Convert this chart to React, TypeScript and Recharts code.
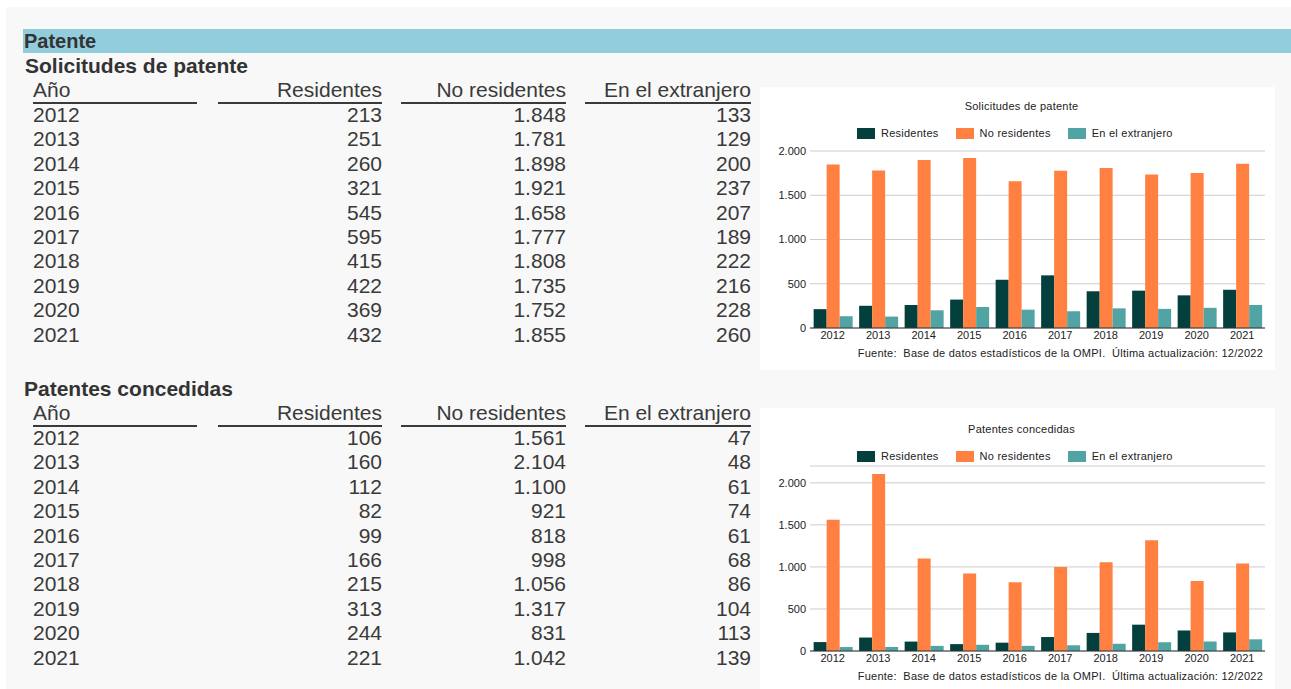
import React from "react";
import { Bar, BarChart, CartesianGrid, XAxis, YAxis } from "recharts";

const years = ["2012", "2013", "2014", "2015", "2016", "2017", "2018", "2019", "2020", "2021"];

const solResidentes = [213, 251, 260, 321, 545, 595, 415, 422, 369, 432];
const solNoResidentes = [1848, 1781, 1898, 1921, 1658, 1777, 1808, 1735, 1752, 1855];
const solExtranjero = [133, 129, 200, 237, 207, 189, 222, 216, 228, 260];

const conResidentes = [106, 160, 112, 82, 99, 166, 215, 313, 244, 221];
const conNoResidentes = [1561, 2104, 1100, 921, 818, 998, 1056, 1317, 831, 1042];
const conExtranjero = [47, 48, 61, 74, 61, 68, 86, 104, 113, 139];

const seriesNames = ["Residentes", "No residentes", "En el extranjero"];
const seriesColors = ["#033f3c", "#ff8040", "#52a3a3"];
const yTicks = [0, 500, 1000, 1500, 2000];
const fuente = "Fuente:  Base de datos estadísticos de la OMPI.  Última actualización: 12/2022";

const fmt = (n: number) => String(n).replace(/\B(?=(\d{3})+(?!\d))/g, ".");

const FONT = "'Liberation Sans', Arial, sans-serif";
const TXT = "#3a3a3a";
const ROW = 24.45;

function DataTable({ top, res, nores, ext }: { top: number; res: number[]; nores: number[]; ext: number[] }) {
  const cols = [
    { label: "Año", left: 33, right: 197, align: "left" as const },
    { label: "Residentes", left: 218, right: 382, align: "right" as const },
    { label: "No residentes", left: 401, right: 566, align: "right" as const },
    { label: "En el extranjero", left: 585, right: 751, align: "right" as const },
  ];
  const rows = years.map((y, i) => [y, fmt(res[i]), fmt(nores[i]), fmt(ext[i])]);
  const cell = (text: string, c: (typeof cols)[number], cy: number, key: string) => (
    <div
      key={key}
      style={{
        position: "absolute",
        left: c.left,
        width: c.right - c.left,
        top: cy - ROW / 2,
        height: ROW,
        lineHeight: ROW + "px",
        textAlign: c.align,
        fontSize: 21,
        color: TXT,
        whiteSpace: "nowrap",
      }}
    >
      {text}
    </div>
  );
  return (
    <>
      {cols.map((c, j) => cell(c.label, c, top, "h" + j))}
      {cols.map((c, j) => (
        <div
          key={"u" + j}
          style={{ position: "absolute", left: c.left, width: c.right - c.left, top: top + 12, height: 2, background: "#3a3a3a" }}
        />
      ))}
      {rows.map((r, i) => r.map((t, j) => cell(t, cols[j], top + 25 + i * ROW, `r${i}-${j}`)))}
    </>
  );
}

function PatentChart({
  top,
  height,
  title,
  res,
  nores,
  ext,
  marginTop,
  plotBottom,
  domainMax,
  titleY,
  legendY,
  sourceY,
}: {
  top: number;
  height: number;
  title: string;
  res: number[];
  nores: number[];
  ext: number[];
  marginTop: number;
  plotBottom: number;
  domainMax: number;
  titleY: number;
  legendY: number;
  sourceY: number;
}) {
  const data = years.map((y, i) => ({ year: y, res: res[i], nores: nores[i], ext: ext[i] }));
  const keys = ["res", "nores", "ext"];
  const label = { fontSize: 11, lineHeight: "14px", color: "#222", letterSpacing: 0.25 };
  return (
    <div style={{ position: "absolute", left: 760, top, width: 515, height, background: "#fff" }}>
      <div style={{ ...label, position: "absolute", left: 0, width: 515, top: titleY - 7, textAlign: "center", paddingLeft: 4 }}>
        {title}
      </div>
      <div style={{ ...label, position: "absolute", left: 97, top: legendY - 7, display: "flex", alignItems: "center" }}>
        {seriesNames.map((n, i) => (
          <div key={n} style={{ display: "flex", alignItems: "center", marginRight: 17 }}>
            <span style={{ display: "inline-block", width: 18, height: 11, background: seriesColors[i], marginRight: 6 }} />
            <span>{n}</span>
          </div>
        ))}
      </div>
      <BarChart
        width={515}
        height={height}
        data={data}
        margin={{ top: marginTop, right: 10, bottom: height - plotBottom - 18, left: 0 }}
        barCategoryGap="8%"
        barGap={0}
      >
        <CartesianGrid vertical={false} stroke="#cccccc" />
        <XAxis
          dataKey="year"
          height={18}
          tickLine={false}
          tickSize={0}
          tickMargin={3}
          axisLine={{ stroke: "#333" }}
          tick={{ fontSize: 11, fill: "#222", fontFamily: FONT }}
          interval={0}
        />
        <YAxis
          width={50}
          domain={[0, domainMax]}
          ticks={yTicks}
          tickFormatter={fmt}
          axisLine={false}
          tickLine={false}
          tickSize={0}
          tickMargin={4}
          tick={{ fontSize: 11, fill: "#222", fontFamily: FONT }}
        />
        {keys.map((k, i) => (
          <Bar key={k} dataKey={k} name={seriesNames[i]} fill={seriesColors[i]} isAnimationActive={false} />
        ))}
      </BarChart>
      <div style={{ ...label, position: "absolute", right: 12, top: sourceY - 7, whiteSpace: "pre" }}>{fuente}</div>
    </div>
  );
}

export default function App() {
  return (
    <div
      style={{
        position: "absolute",
        left: 0,
        top: 0,
        width: 1291,
        height: 689,
        background: "#fff",
        overflow: "hidden",
        fontFamily: FONT,
      }}
    >
      <div style={{ position: "absolute", left: 6, top: 7, right: 0, bottom: 0, background: "#f8f8f8" }} />
      <div style={{ position: "absolute", left: 23, top: 29, right: 0, height: 24, background: "#92cddc" }} />
      <div style={{ position: "absolute", left: 24, top: 29, height: 24, lineHeight: "24px", fontSize: 20, fontWeight: "bold", color: "#333" }}>
        Patente
      </div>
      <div style={{ position: "absolute", left: 25, top: 54, height: 24, lineHeight: "24px", fontSize: 21, fontWeight: "bold", color: "#333" }}>
        Solicitudes de patente
      </div>
      <DataTable top={90} res={solResidentes} nores={solNoResidentes} ext={solExtranjero} />
      <div style={{ position: "absolute", left: 24, top: 377, height: 24, lineHeight: "24px", fontSize: 21, fontWeight: "bold", color: "#333" }}>
        Patentes concedidas
      </div>
      <DataTable top={413} res={conResidentes} nores={conNoResidentes} ext={conExtranjero} />
      <PatentChart
        top={87}
        height={283}
        title="Solicitudes de patente"
        res={solResidentes}
        nores={solNoResidentes}
        ext={solExtranjero}
        marginTop={64}
        plotBottom={241}
        domainMax={2000}
        titleY={19}
        legendY={46}
        sourceY={266}
      />
      <PatentChart
        top={408}
        height={281}
        title="Patentes concedidas"
        res={conResidentes}
        nores={conNoResidentes}
        ext={conExtranjero}
        marginTop={58}
        plotBottom={243}
        domainMax={2200}
        titleY={21}
        legendY={48}
        sourceY={268}
      />
    </div>
  );
}
